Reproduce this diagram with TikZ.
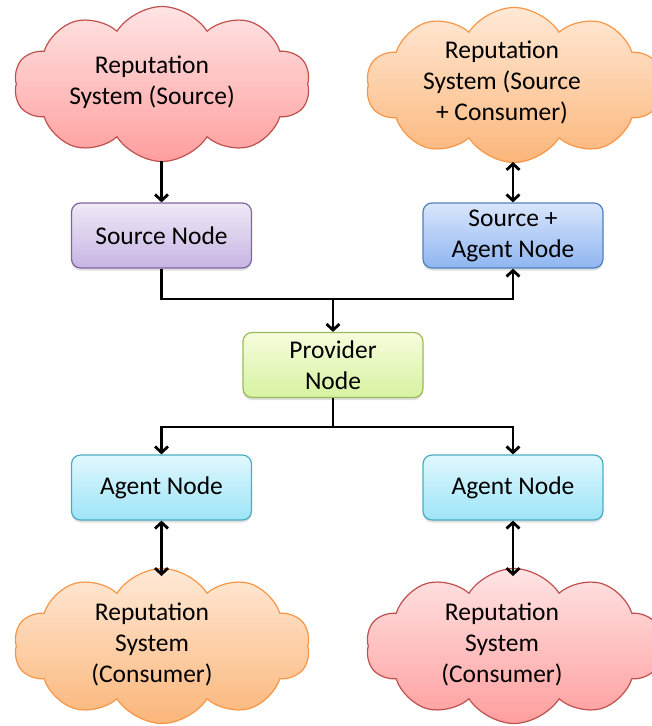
\documentclass[tikz,border=0pt]{standalone}
\usepackage{fontspec}
\setmainfont{Carlito}
\usetikzlibrary{shapes.symbols,arrows.meta,shadows}

\definecolor{redtop}{HTML}{FFE4E4}
\definecolor{redbot}{HTML}{FF9E9E}
\definecolor{redline}{HTML}{C0504D}
\definecolor{orgtop}{HTML}{FFE9D6}
\definecolor{orgbot}{HTML}{FBB67A}
\definecolor{orgline}{HTML}{F79646}
\definecolor{purtop}{HTML}{EFE9F7}
\definecolor{purbot}{HTML}{C7B5E3}
\definecolor{purline}{HTML}{8064A2}
\definecolor{blutop}{HTML}{D9E6FB}
\definecolor{blubot}{HTML}{8FB5F1}
\definecolor{bluline}{HTML}{4F81BD}
\definecolor{grntop}{HTML}{F6FDDC}
\definecolor{grnbot}{HTML}{D6F2A0}
\definecolor{grnline}{HTML}{9BBB59}
\definecolor{cyntop}{HTML}{E0F8FE}
\definecolor{cynbot}{HTML}{9DE4F7}
\definecolor{cynline}{HTML}{4BACC6}

\newcommand{\diagfont}{\fontsize{25.5}{31}\selectfont}

\begin{document}
\begin{tikzpicture}[x=1pt,y=-1pt,
  box/.style={rectangle, rounded corners=9pt, minimum width=180pt,
    minimum height=65pt, line width=1.2pt, align=center, font=\diagfont,
    inner sep=2pt,
    drop shadow={opacity=0.25, shadow xshift=0pt, shadow yshift=-2.5pt}},
  puff/.style={cloud, cloud puffs=10, cloud puff arc=115,
    cloud ignores aspect, minimum width=296pt, minimum height=155pt,
    line width=1.2pt, inner sep=0pt},
  lbl/.style={align=center, font=\diagfont, inner sep=0pt},
  redfill/.style={top color=redtop, bottom color=redbot, draw=redline},
  orgfill/.style={top color=orgtop, bottom color=orgbot, draw=orgline},
  conn/.style={line width=2.8pt, black,
    arrows={-}, >={Straight Barb[length=6pt,width=13pt]}}
]
\useasboundingbox (0,0) rectangle (652,726);

% reputation systems
\node[puff, redfill] (c1) at (162,84) {};
\node[puff, orgfill] (c2) at (514,85) {};
\node[puff, orgfill] (c3) at (162,646) {};
\node[puff, redfill] (c4) at (514,646) {};
\node[lbl] (t1) at (152,82) {Reputation\\System (Source)};
\node[lbl] (t2) at (502,82) {Reputation\\System (Source\\+ Consumer)};
\node[lbl] (t3) at (152,644) {Reputation\\System\\(Consumer)};
\node[lbl] (t4) at (502,644) {Reputation\\System\\(Consumer)};

% where the connectors meet the cloud outlines
\coordinate (c1b) at (161.5,161);
\coordinate (c2b) at (513,162);
\coordinate (c3t) at (161.5,576);
\coordinate (c4t) at (513,576);

% nodes
\node[box, top color=purtop, bottom color=purbot, draw=purline]
  (src) at (161.5,235.5) {Source Node};
\node[box, top color=blutop, bottom color=blubot, draw=bluline]
  (sa) at (513,235.5) {Source +\\Agent Node};
\node[box, top color=grntop, bottom color=grnbot, draw=grnline]
  (prov) at (333,365) {Provider\\Node};
\node[box, top color=cyntop, bottom color=cynbot, draw=cynline]
  (ag1) at (161.5,487.5) {Agent Node};
\node[box, top color=cyntop, bottom color=cynbot, draw=cynline]
  (ag2) at (513,487.5) {Agent Node};

% junctions
\coordinate (j1) at (333,299);
\coordinate (j2) at (333,427);

% connectors
\draw[conn,->] (c1b) -- (src.north);
\draw[conn,<->] (sa.north) -- (c2b);
\draw[conn,->] (src.south) |- (j1) -| (sa.south);
\draw[conn,->] (j1) -- (prov.north);
\draw[conn] (prov.south) -- (j2);
\draw[conn,->] (j2) -| (ag1.north);
\draw[conn,->] (j2) -| (ag2.north);
\draw[conn,<->] (ag1.south) -- (c3t);
\draw[conn,<->] (ag2.south) -- (c4t);
\end{tikzpicture}
\end{document}
